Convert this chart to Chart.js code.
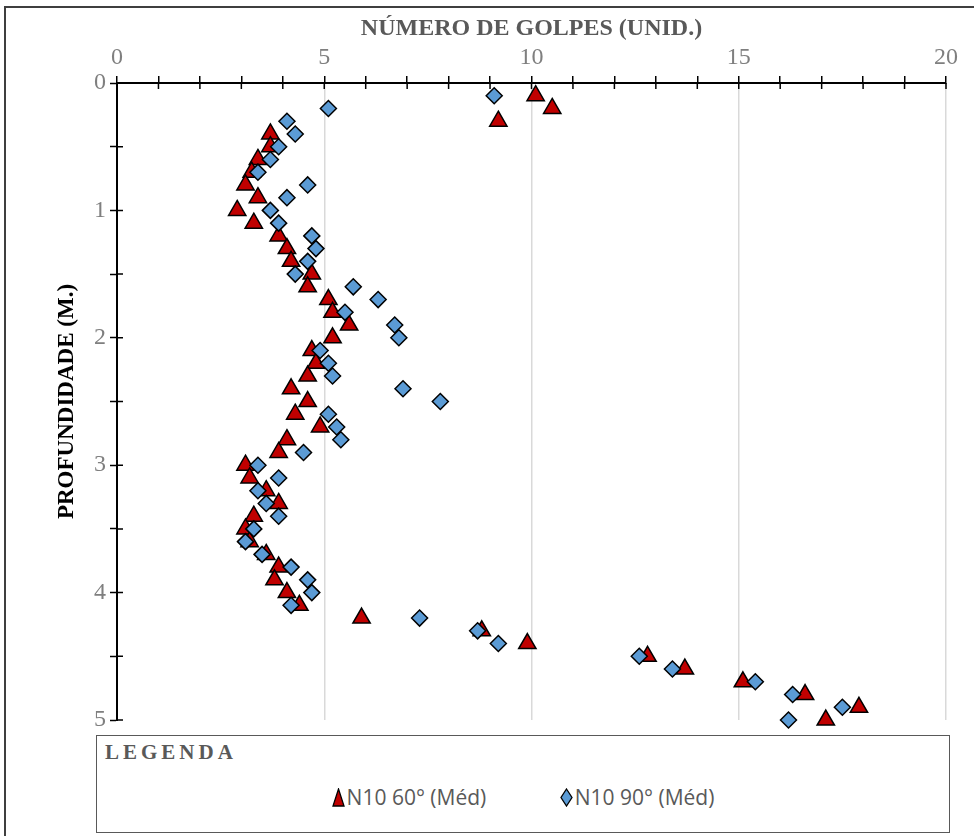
<!DOCTYPE html>
<html>
<head>
<meta charset="utf-8">
<script src="https://cdn.jsdelivr.net/npm/chart.js@4.4.1/dist/chart.umd.min.js"></script>
<style>
  body { margin: 0; background: #fff; }
  #caja { position: relative; width: 974px; height: 836px; overflow: hidden; }
  #marco { position: absolute; left: 4px; top: 6px; width: 990px; height: 850px; border: 2px solid #3f3f3f; }
  #grafico { position: absolute; left: 0; top: 0; }
  #leyenda { position: absolute; left: 96px; top: 735px; width: 852px; height: 96px; border: 1.5px solid #595959; background: #fff; }
  #leyenda .titulo { position: absolute; left: 8px; top: 4px; font: bold 21px "Liberation Serif", serif; letter-spacing: 4px; color: #595959; }
  #leyenda .items { position: absolute; left: 0; right: 0; top: 47px; text-align: center; font: 21px "Open Sans", sans-serif; color: #595959; }
  #leyenda .item { display: inline-block; margin: 0 34px; }
  #leyenda svg { vertical-align: -2px; margin-right: 2px; }
</style>
</head>
<body>
<div id="caja">
  <div id="marco"></div>
  <canvas id="grafico" width="974" height="836"></canvas>
  <div id="leyenda">
    <div class="titulo">LEGENDA</div>
    <div class="items">
      <span class="item"><svg width="13" height="19"><polygon points="6.5,1 12,18 1,18" fill="#C00000" stroke="#000" stroke-width="1.3"/></svg>N10 60° (Méd)</span>
      <span class="item"><svg width="13" height="19"><polygon points="6.5,1 12,9.5 6.5,18 1,9.5" fill="#5B9BD5" stroke="#000" stroke-width="1.3"/></svg>N10 90° (Méd)</span>
    </div>
  </div>
</div>
<script>
//Profundidades de cada ensayo (m)
const profundidades = [0.1, 0.2, 0.3, 0.4, 0.5, 0.6, 0.7, 0.8, 0.9, 1.0,
  1.1, 1.2, 1.3, 1.4, 1.5, 1.6, 1.7, 1.8, 1.9, 2.0,
  2.1, 2.2, 2.3, 2.4, 2.5, 2.6, 2.7, 2.8, 2.9, 3.0,
  3.1, 3.2, 3.3, 3.4, 3.5, 3.6, 3.7, 3.8, 3.9, 4.0,
  4.1, 4.2, 4.3, 4.4, 4.5, 4.6, 4.7, 4.8, 4.9, 5.0];

//Numero de golpes N10 a 60 grados
const golpes60 = [10.1, 10.5, 9.2, 3.7, 3.7, 3.4, 3.25, 3.1, 3.4, 2.9,
  3.3, 3.9, 4.1, 4.2, 4.7, 4.6, 5.1, 5.2, 5.6, 5.2,
  4.7, 4.8, 4.6, 4.2, 4.6, 4.3, 4.9, 4.1, 3.9, 3.1,
  3.2, 3.6, 3.9, 3.3, 3.1, 3.2, 3.6, 3.9, 3.8, 4.1,
  4.4, 5.9, 8.8, 9.9, 12.8, 13.7, 15.1, 16.6, 17.9, 17.1];

//Numero de golpes N10 a 90 grados
const golpes90 = [9.1, 5.1, 4.1, 4.3, 3.9, 3.7, 3.4, 4.6, 4.1, 3.7,
  3.9, 4.7, 4.8, 4.6, 4.3, 5.7, 6.3, 5.5, 6.7, 6.8,
  4.9, 5.1, 5.2, 6.9, 7.8, 5.1, 5.3, 5.4, 4.5, 3.4,
  3.9, 3.4, 3.6, 3.9, 3.3, 3.1, 3.5, 4.2, 4.6, 4.7,
  4.2, 7.3, 8.7, 9.2, 12.6, 13.4, 15.4, 16.3, 17.5, 16.2];

//Etiquetas de los ejes
const etiquetasX = [0, 5, 10, 15, 20];
const etiquetasY = [0, 1, 2, 3, 4, 5];

const puntos = (valores) => valores.map((v, i) => ({x: v, y: profundidades[i]}));

//Las marcas del eje cruzan la linea: dibujamos la mitad interior
const marcasCruzadas = {
  id: 'marcasCruzadas',
  beforeDatasetsDraw(chart) {
    const {ctx, chartArea, scales} = chart;
    ctx.save();
    ctx.strokeStyle = '#000';
    ctx.lineWidth = 1.5;
    ctx.beginPath();
    scales.x.ticks.forEach(t => {
      const px = scales.x.getPixelForValue(t.value);
      ctx.moveTo(px, chartArea.top);
      ctx.lineTo(px, chartArea.top + 6);
    });
    scales.y.ticks.forEach(t => {
      const py = scales.y.getPixelForValue(t.value);
      ctx.moveTo(chartArea.left, py);
      ctx.lineTo(chartArea.left + 6, py);
    });
    ctx.stroke();
    ctx.restore();
  }
};

const fuenteEje = {family: '"Liberation Serif", serif', size: 24};

new Chart(document.getElementById('grafico'), {
  type: 'scatter',
  data: {
    datasets: [
      {
        label: 'N10 90° (Méd)',
        data: puntos(golpes90),
        pointStyle: 'rectRot',
        pointRadius: 8,
        pointHoverRadius: 8,
        backgroundColor: '#5B9BD5',
        borderColor: '#000',
        borderWidth: 1.5,
        clip: false
      },
      {
        label: 'N10 60° (Méd)',
        data: puntos(golpes60),
        pointStyle: 'triangle',
        pointRadius: 10,
        pointHoverRadius: 10,
        backgroundColor: '#C00000',
        borderColor: '#000',
        borderWidth: 1.5,
        clip: false
      }
    ]
  },
  options: {
    responsive: false,
    animation: false,
    devicePixelRatio: 1,
    layout: {padding: {left: 0, right: 28, top: 0, bottom: 116}},
    plugins: {legend: {display: false}, tooltip: {enabled: false}},
    scales: {
      x: {
        position: 'top',
        min: 0,
        max: 20,
        afterFit: (s) => { s.height = 83; },
        ticks: {
          stepSize: 1,
          padding: 4,
          color: '#7f7f7f',
          font: fuenteEje,
          maxRotation: 0,
          autoSkip: false,
          callback: (v) => etiquetasX.includes(v) ? v : ''
        },
        grid: {
          color: (c) => (c.tick && c.tick.value % 5 === 0 && c.tick.value > 0) ? '#d9d9d9' : 'rgba(0,0,0,0)',
          lineWidth: 1.5,
          tickColor: '#000',
          tickLength: 7,
          tickWidth: 1.5
        },
        border: {color: '#000', width: 2},
        title: {
          display: true,
          text: 'NÚMERO DE GOLPES (UNID.)',
          color: '#595959',
          font: {family: '"Liberation Serif", serif', size: 24, weight: 'bold'},
          padding: {top: 14, bottom: 0}
        }
      },
      y: {
        reverse: true,
        min: 0,
        max: 5,
        afterFit: (s) => { s.width = 117; },
        ticks: {
          stepSize: 0.5,
          padding: 4,
          color: '#7f7f7f',
          font: fuenteEje,
          autoSkip: false,
          callback: (v) => etiquetasY.includes(v) ? v : ''
        },
        grid: {
          color: 'rgba(0,0,0,0)',
          tickColor: '#000',
          tickLength: 7,
          tickWidth: 1.5
        },
        border: {color: '#000', width: 2},
        title: {
          display: true,
          text: 'PROFUNDIDADE (M.)',
          color: '#000',
          font: {family: '"Liberation Serif", serif', size: 23, weight: 'bold'},
          padding: {top: 53, bottom: 0}
        }
      }
    }
  },
  plugins: [marcasCruzadas]
});
</script>
</body>
</html>
